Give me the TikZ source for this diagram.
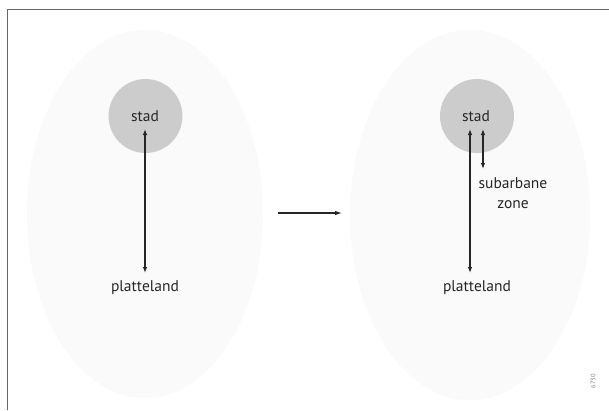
\documentclass[tikz,border=0pt]{standalone}
\usepackage{fontspec}
\setmainfont{PT Sans}
\usetikzlibrary{arrows.meta}
\definecolor{haze}{gray}{0.982}
\definecolor{citygray}{gray}{0.80}
\definecolor{framegray}{gray}{0.40}
\begin{document}
\begin{tikzpicture}[x=1pt,y=-1pt,
  lbl/.style={font=\fontsize{15.5}{20}\selectfont, text=black!85, inner sep=1pt},
  twoway/.style={{Latex[length=6pt,width=4.5pt]}-{Latex[length=6pt,width=4.5pt]}, line width=1.1pt, black!85},
  oneway/.style={-{Latex[length=7pt,width=4.5pt]}, line width=1.1pt, black!85},
  region/.style={fill=haze, draw=none},
  city/.style={circle, fill=citygray, minimum size=74pt, inner sep=0pt}]
\useasboundingbox (0,0) rectangle (609,410);
\fill[white] (0,0) rectangle (609,410);
% faint regions
\fill[region] (145,214) ellipse (118 and 184);
\fill[region] (470,215) ellipse (120 and 185);
% frame
\draw[framegray, line width=0.8pt] (7,410) -- (7,9.5) -- (609,9.5);
% left
\node[city] (c1) at (145.5,116) {};
\node[lbl] (s1) at (145,116) {stad};
\node[lbl] (p1) at (145,288) {platteland};
\coordinate (a1) at (145,129);
\coordinate (b1) at (145,273);
\draw[twoway] (a1) -- (b1);
% right
\node[city] (c2) at (477,116) {};
\node[lbl] (s2) at (476,116) {stad};
\node[lbl] (p2) at (477,288) {platteland};
\node[lbl, align=center] (z2) at (513,193) {subarbane\\zone};
\coordinate (a2) at (470,129);
\coordinate (b2) at (470,273);
\draw[twoway] (a2) -- (b2);
\coordinate (a3) at (483,129);
\coordinate (b3) at (483,169);
\draw[twoway] (a3) -- (b3);
% transition arrow
\coordinate (m1) at (278,213);
\coordinate (m2) at (342,213);
\draw[oneway] (m1) -- (m2);
% code
\node[rotate=90, font=\fontsize{6.5}{7}\selectfont, text=black!50] (code) at (593,381) {6730};
\end{tikzpicture}
\end{document}
